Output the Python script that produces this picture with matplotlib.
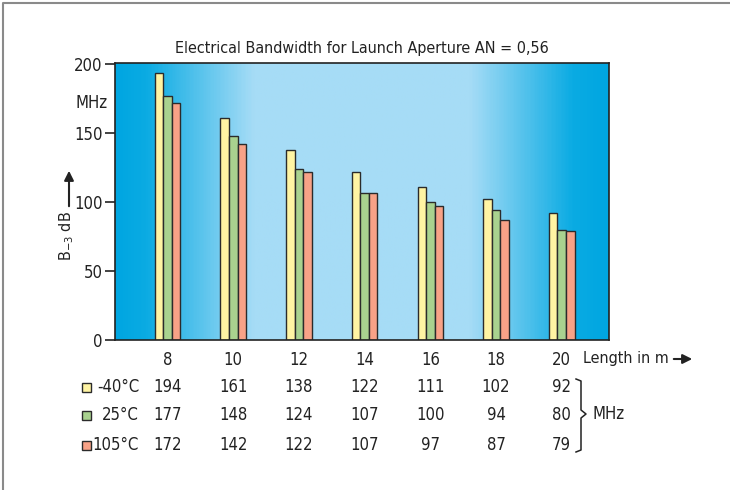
import matplotlib
matplotlib.use("Agg")
import matplotlib.pyplot as plt
import numpy as np
from matplotlib.colors import LinearSegmentedColormap
from matplotlib.patches import Rectangle

plt.rcParams['font.family'] = ['DejaVu Sans']
plt.rcParams['font.stretch'] = 'condensed'
plt.rcParams['mathtext.fontset'] = 'custom'
plt.rcParams['mathtext.rm'] = 'DejaVu Sans:stretch=condensed'

# Daten
lengths = ['8', '10', '12', '14', '16', '18', '20']
temps = ['-40°C', '25°C', '105°C']
bw_m40 = [194, 161, 138, 122, 111, 102, 92]
bw_25 = [177, 148, 124, 107, 100, 94, 80]
bw_105 = [172, 142, 122, 107, 97, 87, 79]
series = [bw_m40, bw_25, bw_105]
colors = ['#fff4a3', '#a9d28f', '#f8a287']

fig = plt.figure(figsize=(7.3, 4.9), dpi=100)
ax = fig.add_axes([115 / 730, 1 - 340 / 490, 494 / 730, 277 / 490])

x = np.arange(len(lengths))
xmin, xmax = -0.80, 6.72
ymax = 201
fs = 12
txt = '#222222'

# Hintergrund mit Farbverlauf
bg = LinearSegmentedColormap.from_list('bg', [
    (0.0, '#00a6e1'), (0.06, '#0aabe3'), (0.28, '#a6dcf6'),
    (0.72, '#a6dcf6'), (0.93, '#0aabe3'), (1.0, '#00a6e1')])
grad = np.linspace(0, 1, 400).reshape(1, -1)
ax.imshow(grad, cmap=bg, aspect='auto', extent=(xmin, xmax, 0, ymax), zorder=0)

w = 0.13
for i, (vals, c) in enumerate(zip(series, colors)):
    ax.bar(x + (i - 1) * w, vals, width=w, color=c, edgecolor='#2b2b2b',
           linewidth=1.0, zorder=2)

ax.set_xlim(xmin, xmax)
ax.set_ylim(0, ymax)
ax.set_yticks([0, 50, 100, 150, 200])
ax.tick_params(axis='y', length=7, width=1.2, labelsize=fs, pad=2, colors=txt)
ax.set_xticks(x)
ax.set_xticklabels(lengths)
ax.tick_params(axis='x', length=0, labelsize=fs, pad=8, colors=txt)
for s in ax.spines.values():
    s.set_linewidth(1.2)
    s.set_color(txt)

ax.set_title('Electrical Bandwidth for Launch Aperture AN = 0,56',
             fontsize=11.5, pad=7, color=txt)

# MHz an der y-Achse und Achsenbeschriftung
ax.text(-0.015, 172 / ymax, 'MHz', transform=ax.transAxes, ha='right',
        va='center', fontsize=fs, color=txt)
fig.text(67 / 730, 1 - 236 / 490, r'B$_{\mathrm{-3}}$ dB', rotation=90,
         ha='center', va='center', fontsize=11.5, color=txt)
ax.annotate('', xy=(69 / 730, 1 - 168 / 490), xytext=(69 / 730, 1 - 209 / 490),
            xycoords='figure fraction',
            arrowprops=dict(arrowstyle='-|>', color=txt, lw=1.5,
                            mutation_scale=14))

# Length in m mit Pfeil
fig.text(583 / 730, 1 - 358 / 490, 'Length in m', ha='left', va='center',
         fontsize=11.5, color=txt)
ax.annotate('', xy=(695 / 730, 1 - 359 / 490), xytext=(671 / 730, 1 - 359 / 490),
            xycoords='figure fraction',
            arrowprops=dict(arrowstyle='-|>', color=txt, lw=1.5,
                            mutation_scale=14))

# Tabelle unter dem Diagramm
tr = ax.get_xaxis_transform()
row_y = [387, 415, 445]
for r, (lab, vals, c) in enumerate(zip(temps, series, colors)):
    fy = 1 - row_y[r] / 490
    ax_y = (340 - row_y[r]) / 277
    fig.patches.append(Rectangle((82 / 730, fy - 4.5 / 490), 9 / 730, 9 / 490,
                                 transform=fig.transFigure, facecolor=c,
                                 edgecolor='#2b2b2b', linewidth=1.0))
    fig.text(139 / 730, fy, lab, ha='right', va='center', fontsize=fs,
             color=txt)
    for xi, v in zip(x, vals):
        ax.text(xi, ax_y, str(v), transform=tr, ha='center', va='center',
                fontsize=fs, color=txt, clip_on=False)

# Klammer und MHz
bx = [576 / 730, 581 / 730, 581 / 730, 586 / 730, 581 / 730, 581 / 730, 576 / 730]
by = [1 - 379 / 490, 1 - 381 / 490, 1 - 410 / 490, 1 - 414 / 490,
      1 - 418 / 490, 1 - 450 / 490, 1 - 452 / 490]
fig.add_artist(plt.Line2D(bx, by, transform=fig.transFigure, color=txt,
                          lw=1.1))
fig.text(592 / 730, 1 - 414 / 490, 'MHz', ha='left', va='center', fontsize=fs,
         color=txt)

# Rahmen (nur oben und links)
fig.add_artist(plt.Line2D([3 / 730, 3 / 730, 1.0], [0.0, 1 - 3 / 490, 1 - 3 / 490],
                          transform=fig.transFigure, color='#8a8a8a', lw=1.5))

fig.savefig('out.png', dpi=100)
